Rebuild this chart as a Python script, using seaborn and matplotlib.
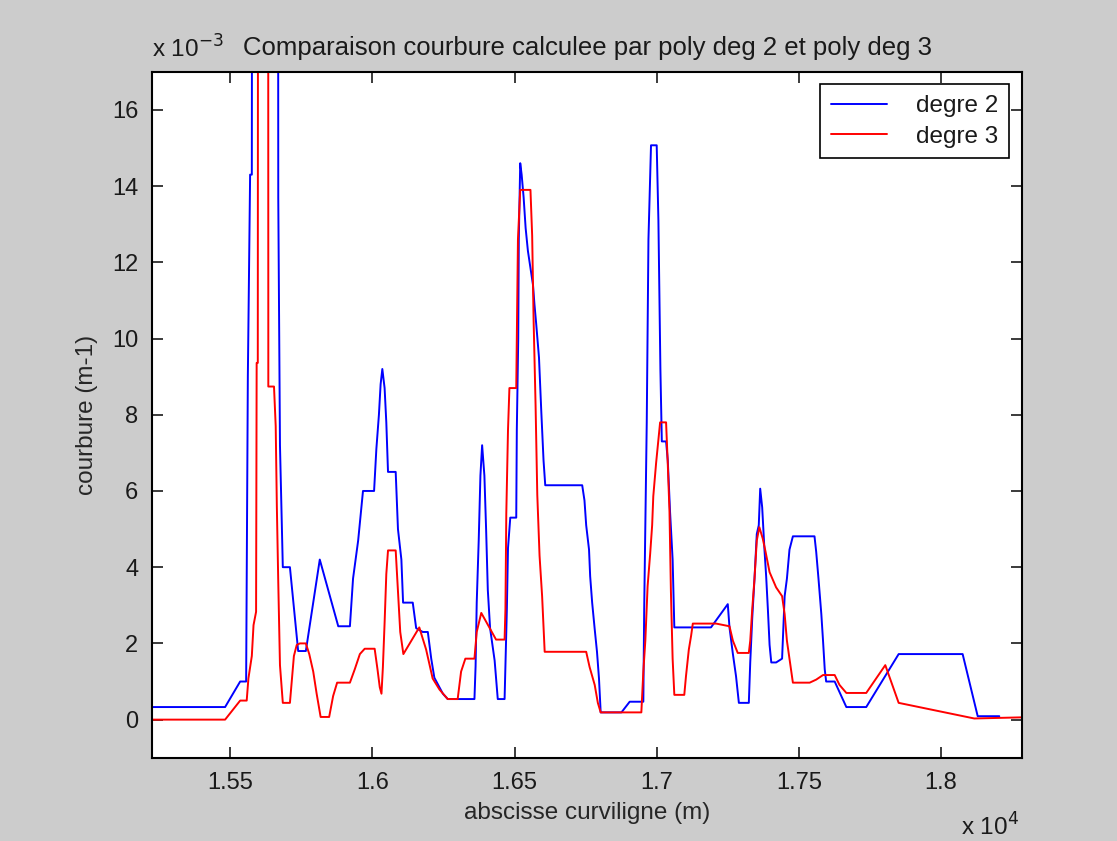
import matplotlib
matplotlib.use("Agg")
import matplotlib.pyplot as plt
import numpy as np
import pandas as pd
import seaborn as sns

# abscisse curviligne (m) et courbure (x 1e-3 m-1)
x_deg2 = [15225, 15482, 15535, 15556, 15558, 15562, 15570, 15576, 15579, 15667,
          15669, 15675, 15685, 15710, 15722, 15739, 15766, 15815, 15880, 15921,
          15932, 15950, 15967, 16006, 16014, 16023, 16029, 16035, 16043, 16049,
          16055, 16082, 16090, 16102, 16108, 16142, 16154, 16177, 16195, 16207,
          16218, 16248, 16265, 16359, 16363, 16367, 16374, 16380, 16386, 16394,
          16400, 16406, 16414, 16430, 16441, 16465, 16468, 16473, 16477, 16485,
          16506, 16508, 16513, 16515, 16520, 16525, 16532, 16539, 16547, 16555,
          16565, 16570, 16576, 16586, 16594, 16602, 16608, 16738, 16746, 16752,
          16762, 16766, 16773, 16782, 16790, 16797, 16803, 16876, 16905, 16953,
          16956, 16965, 16971, 16980, 17000, 17006, 17013, 17018, 17033, 17039,
          17047, 17056, 17062, 17191, 17250, 17256, 17268, 17279, 17289, 17324,
          17329, 17336, 17344, 17352, 17359, 17364, 17371, 17379, 17385, 17391,
          17397, 17403, 17420, 17441, 17450, 17458, 17467, 17479, 17555, 17561,
          17569, 17579, 17585, 17591, 17596, 17626, 17667, 17737, 17851, 18076,
          18129, 18205]
k_deg2 = [0.33, 0.33, 1.0, 1.0, 3.6, 9.0, 14.3, 14.3, 40.0, 40.0,
          13.7, 7.2, 4.0, 4.0, 3.1, 1.8, 1.8, 4.2, 2.45, 2.45,
          3.7, 4.7, 6.0, 6.0, 7.1, 8.0, 8.8, 9.2, 8.7, 7.8,
          6.5, 6.5, 5.0, 4.2, 3.07, 3.07, 2.4, 2.3, 2.3, 1.6,
          1.1, 0.68, 0.54, 0.54, 1.4, 3.07, 4.7, 6.4, 7.2, 6.4,
          5.0, 3.4, 2.4, 1.55, 0.54, 0.54, 1.4, 2.9, 4.5, 5.3,
          5.3, 7.6, 10.0, 12.6, 14.6, 14.3, 13.7, 12.9, 12.3, 11.9,
          11.4, 10.9, 10.4, 9.5, 8.1, 6.8, 6.15, 6.15, 5.75, 5.1,
          4.46, 3.76, 3.07, 2.37, 1.78, 1.08, 0.19, 0.19, 0.47, 0.47,
          2.9, 7.8, 12.6, 15.07, 15.07, 13.1, 9.2, 7.3, 7.3, 6.8,
          5.45, 4.2, 2.42, 2.42, 3.03, 2.42, 1.72, 1.14, 0.44, 0.44,
          1.5, 2.66, 3.7, 4.87, 5.1, 6.06, 5.57, 4.46, 3.76, 2.9,
          1.96, 1.5, 1.5, 1.6, 3.24, 3.7, 4.46, 4.81, 4.81, 4.4,
          3.7, 2.77, 2.07, 1.32, 1.0, 1.0, 0.33, 0.33, 1.72, 1.72,
          0.09, 0.09]

x_deg3 = [15225, 15482, 15535, 15558, 15564, 15576, 15582, 15591, 15593, 15597,
          15599, 15633, 15634, 15654, 15660, 15664, 15669, 15675, 15685, 15710,
          15716, 15724, 15734, 15745, 15766, 15778, 15792, 15804, 15818, 15848,
          15862, 15876, 15921, 15938, 15956, 15973, 16008, 16018, 16026, 16032,
          16037, 16043, 16049, 16055, 16082, 16090, 16098, 16109, 16165, 16189,
          16212, 16236, 16265, 16300, 16312, 16327, 16359, 16367, 16383, 16435,
          16465, 16468, 16471, 16477, 16482, 16506, 16508, 16512, 16520, 16556,
          16562, 16567, 16574, 16580, 16588, 16597, 16606, 16752, 16764, 16782,
          16793, 16803, 16946, 16953, 16960, 16968, 16977, 16984, 16988, 16998,
          17006, 17012, 17033, 17039, 17045, 17050, 17056, 17062, 17097, 17103,
          17113, 17121, 17127, 17209, 17256, 17268, 17285, 17324, 17329, 17336,
          17344, 17352, 17361, 17373, 17383, 17397, 17420, 17441, 17450, 17458,
          17467, 17479, 17538, 17561, 17585, 17626, 17643, 17667, 17737, 17804,
          17851, 18117, 18285]
k_deg3 = [0.0, 0.0, 0.5, 0.5, 1.08, 1.67, 2.48, 2.83, 9.36, 9.36,
          40.0, 40.0, 8.74, 8.74, 7.7, 5.6, 3.6, 1.43, 0.44, 0.44,
          0.97, 1.67, 1.96, 2.0, 2.0, 1.72, 1.26, 0.68, 0.07, 0.07,
          0.62, 0.97, 0.97, 1.32, 1.72, 1.86, 1.86, 1.32, 0.85, 0.68,
          1.38, 2.54, 3.82, 4.44, 4.44, 3.36, 2.3, 1.72, 2.42, 1.84,
          1.08, 0.79, 0.54, 0.54, 1.26, 1.6, 1.6, 2.3, 2.8, 2.1,
          2.1, 2.9, 5.4, 7.6, 8.7, 8.7, 10.0, 12.6, 13.9, 13.9,
          12.7, 10.5, 8.25, 5.9, 4.3, 3.24, 1.78, 1.78, 1.38, 0.91,
          0.44, 0.19, 0.19, 1.26, 2.07, 3.5, 4.35, 5.1, 5.86, 6.74,
          7.35, 7.8, 7.8, 6.7, 5.45, 3.36, 1.6, 0.65, 0.65, 1.14,
          1.84, 2.2, 2.52, 2.52, 2.45, 2.07, 1.75, 1.75, 2.07, 2.9,
          3.7, 4.7, 5.05, 4.75, 4.4, 3.87, 3.47, 3.24, 2.77, 2.07,
          1.6, 0.97, 0.97, 1.05, 1.17, 1.17, 0.91, 0.7, 0.7, 1.43,
          0.44, 0.03, 0.06]

series_names = ["degre 2", "degre 3"]
series_colors = ["#0000ff", "#ff0000"]
x_ticks = [15500, 16000, 16500, 17000, 17500, 18000]
x_tick_labels = ["1.55", "1.6", "1.65", "1.7", "1.75", "1.8"]
y_ticks = [0, 2, 4, 6, 8, 10, 12, 14, 16]

df = pd.concat([
    pd.DataFrame({"s": x_deg2, "k": k_deg2, "serie": series_names[0]}),
    pd.DataFrame({"s": x_deg3, "k": k_deg3, "serie": series_names[1]}),
], ignore_index=True)

sns.set_style("ticks")
plt.rcParams["font.family"] = ["Liberation Sans", "DejaVu Sans"]
plt.rcParams["text.color"] = "#1a1a1a"

fig = plt.figure(figsize=(11.17, 8.41), dpi=100, facecolor="#cccccc")
ax = fig.add_axes([0.1361, 0.099, 0.7789, 0.8157])
ax.set_facecolor("white")

sns.lineplot(data=df, x="s", y="k", hue="serie", palette=series_colors,
             estimator=None, sort=False, linewidth=1.4, ax=ax)

ax.set_xlim(15225, 18285)
ax.set_ylim(-1, 17)
ax.set_xticks(x_ticks)
ax.set_xticklabels(x_tick_labels)
ax.set_yticks(y_ticks)
ax.set_yticklabels([str(v) for v in y_ticks])
ax.tick_params(direction="in", length=8, width=1.2, top=True, right=True,
               labelsize=17, colors="#1a1a1a", pad=10)
for sp in ax.spines.values():
    sp.set_visible(True)
    sp.set_linewidth(1.5)
    sp.set_color("black")

ax.set_xlabel("abscisse curviligne (m)", fontsize=17.5, labelpad=6)
ax.set_ylabel("courbure (m-1)", fontsize=17.5, labelpad=10)
ax.set_title("Comparaison courbure calculee par poly deg 2 et poly deg 3",
             fontsize=18.5, pad=12, x=0.5)
ax.text(0.0, 1.02, r"x 10$^{-3}$", transform=ax.transAxes, fontsize=17.5,
        ha="left", va="baseline")
ax.text(0.93, -0.113, r"x 10$^{4}$", transform=ax.transAxes, fontsize=17.5,
        ha="left", va="baseline")

handles, labels = ax.get_legend_handles_labels()
leg = ax.legend(handles, labels, loc="upper right", bbox_to_anchor=(0.985, 0.982),
                borderaxespad=0, fancybox=False, framealpha=1, edgecolor="black",
                fontsize=17.5, handlelength=2.3, handletextpad=1.2,
                labelspacing=0.35, borderpad=0.45)
leg.get_frame().set_linewidth(1.2)

fig.savefig("out.png", dpi=100, facecolor=fig.get_facecolor())
